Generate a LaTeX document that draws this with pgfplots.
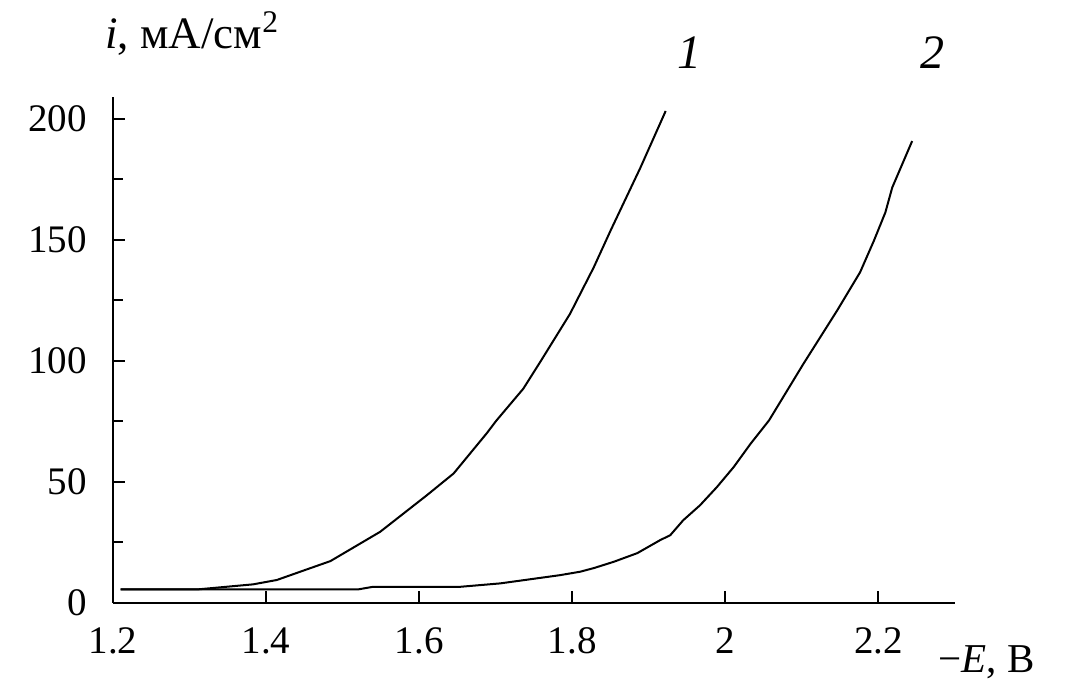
\documentclass[border=0pt]{standalone}
\usepackage{fontspec}
\setmainfont{Liberation Serif}
\usepackage{pgfplots}
\pgfplotsset{compat=1.18}
\begin{document}
\begin{tikzpicture}
\begin{axis}[
  scale only axis,
  width=421pt, height=253pt,
  xmin=1.2, xmax=2.3, ymin=0, ymax=209,
  axis lines=left,
  axis line style={-, line width=1pt},
  xtick={1.2,1.4,1.6,1.8,2.0,2.2},
  ytick={0,50,100,150,200},
  minor ytick={25,75,125,175},
  tick style={line width=1pt, black},
  major tick length=6pt,
  minor tick length=5pt,
  tick align=inside,
  /pgf/number format/assume math mode=true,
  ticklabel style={font=\fontsize{19.5}{23}\selectfont},
  yticklabel style={xshift=-9.5pt},
  xticklabel style={yshift=-9pt},
  clip=false,
]
\addplot[black, line width=1pt] coordinates {
(1.21,5.6) (1.31,5.6) (1.383,7.7) (1.414,9.5) (1.457,14.3) (1.484,17.3)
(1.549,29.4) (1.61,44.5) (1.645,53.5) (1.688,70) (1.701,75.4) (1.736,88.5)
(1.758,99.5) (1.797,119.4) (1.828,138.6) (1.85,153.8) (1.889,179.8) (1.922,203.2)
};
\addplot[black, line width=1pt] coordinates {
(1.21,5.6) (1.52,5.6) (1.54,6.7) (1.654,6.7) (1.706,8.1) (1.784,11.5)
(1.81,12.9) (1.828,14.4) (1.854,17) (1.885,20.6) (1.915,26) (1.928,28)
(1.945,34.2) (1.967,40.4) (1.989,47.9) (2.011,56.2) (2.033,65.8) (2.057,75.4)
(2.102,98.8) (2.146,120.8) (2.176,136.6) (2.194,149.6) (2.209,161.3) (2.218,171.6) (2.244,190.8)
};
\node[anchor=base west, inner sep=0pt, font=\fontsize{22.5}{27}\selectfont] at (rel axis cs:-0.0095,1.0968) {\textit{i}, мА/см$^{\mathrm{2}}$};
\node[anchor=base, inner sep=0pt, font=\fontsize{24}{28}\selectfont\itshape] at (rel axis cs:0.685,1.057) {1};
\node[anchor=base, inner sep=0pt, font=\fontsize{24}{28}\selectfont\itshape] at (rel axis cs:0.9727,1.057) {2};
\node[anchor=base west, inner sep=0pt, font=\fontsize{20.5}{24}\selectfont] at (rel axis cs:0.98,-0.138) {−\textit{E}, В};
\end{axis}
\pgfresetboundingbox
\path[use as bounding box] (-56.5pt,-43pt) rectangle (484pt,301.5pt);
\end{tikzpicture}
\end{document}
